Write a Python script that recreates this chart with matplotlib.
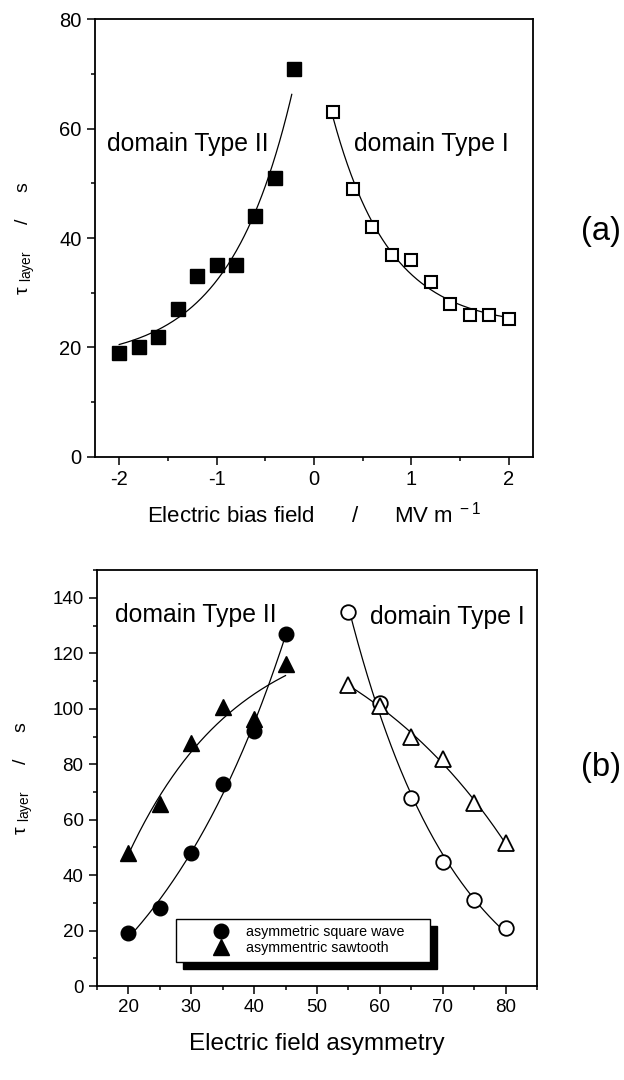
import numpy as np
import matplotlib
matplotlib.use("Agg")
import matplotlib.pyplot as plt
from matplotlib.ticker import MultipleLocator

plt.rcParams['font.family'] = ['Liberation Sans', 'DejaVu Sans']
plt.rcParams['mathtext.fontset'] = 'custom'
plt.rcParams['mathtext.rm'] = 'Liberation Sans'
plt.rcParams['mathtext.it'] = 'Liberation Sans:italic'
plt.rcParams['axes.unicode_minus'] = False

# panel (a): relaxation time vs bias field
bias_II = [-2.0, -1.8, -1.6, -1.4, -1.2, -1.0, -0.8, -0.6, -0.4, -0.2]
tau_II = [19, 20, 22, 27, 33, 35, 35, 44, 51, 71]
bias_I = [0.2, 0.4, 0.6, 0.8, 1.0, 1.2, 1.4, 1.6, 1.8, 2.0]
tau_I = [63, 49, 42, 37, 36, 32, 28, 26, 26, 25.3]

# panel (b): relaxation time vs asymmetry
asym_II = [20, 25, 30, 35, 40, 45]
sq_II = [19, 28, 48, 73, 92, 127]
saw_II = [48, 65.5, 87.5, 100.5, 96.5, 116]
asym_I = [55, 60, 65, 70, 75, 80]
sq_I = [135, 102, 68, 44.7, 31, 20.8]
saw_I = [108.5, 101, 90, 82, 66, 51.5]


def fit_exp(x, y):
    # y = c + a*exp(b*x), grid over b, least squares for c and a
    x = np.asarray(x, float)
    y = np.asarray(y, float)
    best = None
    span = x.max() - x.min()
    for b in np.linspace(-8, 8, 1601) / span:
        if abs(b) < 1e-9:
            continue
        A = np.column_stack([np.ones_like(x), np.exp(b * (x - x.min()))])
        coef, *_ = np.linalg.lstsq(A, y, rcond=None)
        r = np.sum((A @ coef - y) ** 2)
        if best is None or r < best[0]:
            best = (r, b, coef)
    _, b, coef = best
    xx = np.linspace(x.min(), x.max(), 200)
    return xx, coef[0] + coef[1] * np.exp(b * (xx - x.min()))


fig = plt.figure(figsize=(6.24, 10.8), dpi=100)
ax1 = fig.add_axes([0.152, 0.577, 0.702, 0.405])
ax2 = fig.add_axes([0.155, 0.087, 0.706, 0.385])

lw = 0.9
for ax in (ax1, ax2):
    for s in ax.spines.values():
        s.set_linewidth(1.3)
    ax.tick_params(which='both', direction='out', top=False, right=False, width=1.1)
    ax.tick_params(which='major', length=6)
    ax.tick_params(which='minor', length=3)
ax1.tick_params(labelsize=14.5)
ax2.tick_params(labelsize=13.5)

ylab = "τ $_{\\rm layer}$     /     s"

# ---- (a)
xx, yy = fit_exp(bias_II, tau_II)
ax1.plot(xx[xx <= -0.22], yy[xx <= -0.22], color='black', lw=lw)
xx, yy = fit_exp(bias_I, tau_I)
ax1.plot(xx, yy, color='black', lw=lw)
ax1.plot(bias_II, tau_II, 's', ms=9.5, color='black')
ax1.plot(bias_I, tau_I, 's', ms=9, mfc='white', mec='black', mew=1.5)
ax1.set_xlim(-2.25, 2.25)
ax1.set_ylim(0, 80)
ax1.xaxis.set_major_locator(MultipleLocator(1))
ax1.xaxis.set_minor_locator(MultipleLocator(0.5))
ax1.yaxis.set_major_locator(MultipleLocator(20))
ax1.yaxis.set_minor_locator(MultipleLocator(10))
ax1.set_xlabel("Electric bias field      /      MV m$^{\\ -1}$", fontsize=16, labelpad=9)
ax1.set_ylabel(ylab, fontsize=14, labelpad=16)
ax1.text(-2.13, 57.2, "domain Type II", fontsize=17.8, va='center', ha='left')
ax1.text(0.41, 57.3, "domain Type I", fontsize=17.8, va='center', ha='left')
fig.text(0.963, 0.786, "(a)", fontsize=23.5, ha='center', va='center')

# ---- (b)
for xs, ys in ((asym_II, sq_II), (asym_II, saw_II), (asym_I, sq_I), (asym_I, saw_I)):
    xx, yy = fit_exp(xs, ys)
    ax2.plot(xx, yy, color='black', lw=lw)
h1, = ax2.plot(asym_II, sq_II, 'o', ms=10.5, color='black')
h2, = ax2.plot(asym_II, saw_II, '^', ms=12, color='black')
ax2.plot(asym_I, sq_I, 'o', ms=10.5, mfc='white', mec='black', mew=1.3)
ax2.plot(asym_I, saw_I, '^', ms=12, mfc='white', mec='black', mew=1.3)
ax2.set_xlim(15, 85)
ax2.set_ylim(0, 150)
ax2.xaxis.set_major_locator(MultipleLocator(10))
ax2.xaxis.set_minor_locator(MultipleLocator(5))
ax2.yaxis.set_major_locator(MultipleLocator(20))
ax2.yaxis.set_minor_locator(MultipleLocator(10))
ax2.set_xlabel("Electric field asymmetry", fontsize=17.5, labelpad=12)
ax2.set_ylabel(ylab, fontsize=14, labelpad=12)
ax2.text(17.9, 134, "domain Type II", fontsize=17.8, va='center', ha='left')
ax2.text(58.4, 133, "domain Type I", fontsize=17.8, va='center', ha='left')
ax2.legend([h1, h2], ["asymmetric square wave", "asymmentric sawtooth"],
           loc='lower left', bbox_to_anchor=(0.18, 0.058, 0.577, 0.108), mode='expand',
           borderaxespad=0, fontsize=10.3, frameon=True, fancybox=False,
           edgecolor='black', framealpha=1, handletextpad=-0.95, labelspacing=0.15,
           borderpad=0.45, handlelength=5.4,
           shadow={'ox': 5, 'oy': -5, 'facecolor': 'black', 'edgecolor': 'black', 'alpha': 1})
fig.text(0.963, 0.289, "(b)", fontsize=23.5, ha='center', va='center')

fig.savefig("out.png", dpi=100)
